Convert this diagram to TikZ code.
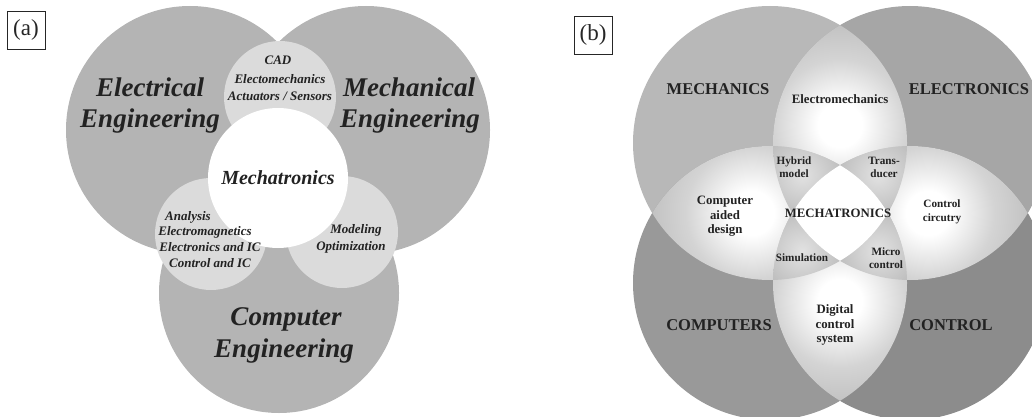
\documentclass[tikz,border=0pt]{standalone}
\usepackage{fontspec}
\setmainfont{Liberation Serif}
% panel (a) palette
\definecolor{bigA}{HTML}{B4B4B4}
\definecolor{smallA}{HTML}{DBDBDB}
\definecolor{ink}{HTML}{222222}
% panel (b) palette
\definecolor{mechB}{HTML}{B8B8B8}
\definecolor{elecB}{HTML}{A6A6A6}
\definecolor{compB}{HTML}{999999}
\definecolor{ctrlB}{HTML}{8C8C8C}
\definecolor{lensmid}{HTML}{D4D4D4}
\definecolor{lensrim}{HTML}{C2C2C2}
\definecolor{triin}{HTML}{E2E2E2}
\definecolor{triout}{HTML}{B4B4B4}
\pgfdeclareradialshading{lensglow}{\pgfpoint{0bp}{0bp}}{color(0bp)=(white); color(5bp)=(white); color(15bp)=(lensmid); color(23bp)=(lensrim); color(50bp)=(lensrim)}
\pgfdeclareradialshading{triglow}{\pgfpoint{0bp}{0bp}}{color(0bp)=(triin); color(25bp)=(triout); color(50bp)=(triout)}
\begin{document}
\begin{tikzpicture}[x=1pt,y=-1pt,
  every node/.style={inner sep=0pt, text=ink},
  bigtxt/.style={anchor=base, font=\fontsize{27}{27}\selectfont\bfseries\itshape},
  midtxt/.style={anchor=base, font=\fontsize{20}{20}\selectfont\bfseries\itshape},
  smalltxt/.style={anchor=base, font=\fontsize{13}{13}\selectfont\bfseries\itshape},
  captxt/.style={anchor=base, font=\fontsize{16.5}{16.5}\selectfont\bfseries},
  lenstxt/.style={anchor=base, font=\fontsize{12.8}{12.8}\selectfont\bfseries},
  tinytxt/.style={anchor=base, font=\fontsize{11.2}{11.2}\selectfont\bfseries},
  tagbox/.style={draw=black!85, line width=0.8pt, minimum width=38pt, minimum height=38pt,
    font=\fontsize{23}{23}\selectfont, text=black!85}]
\useasboundingbox (0,0) rectangle (1032,417);

% ---------------- panel (a) ----------------
\coordinate (EE) at (190,130);
\coordinate (ME) at (366,130);
\coordinate (CE) at (279,293);
\coordinate (CADc) at (280,97);
\coordinate (ANc) at (211,234);
\coordinate (MOc) at (342,232);
\coordinate (MTc) at (278,178);

\fill[bigA] (EE) circle (124pt);
\fill[bigA] (ME) circle (124pt);
\fill[bigA] (CE) circle (120pt);
\fill[smallA] (CADc) circle (56pt);
\fill[smallA] (ANc) circle (56pt);
\fill[smallA] (MOc) circle (56pt);
\fill[white] (MTc) circle (70pt);

\node[bigtxt] (ee1) at (150,97) {Electrical};
\node[bigtxt] (ee2) at (150,128) {Engineering};
\node[bigtxt] (me1) at (409,97) {Mechanical};
\node[bigtxt] (me2) at (410,128) {Engineering};
\node[bigtxt] (ce1) at (286,325) {Computer};
\node[bigtxt] (ce2) at (284,357) {Engineering};
\node[midtxt] (mt) at (278,184) {Mechatronics};

\node[smalltxt] (cad1) at (278,65) {CAD};
\node[smalltxt] (cad2) at (280,84) {Electomechanics};
\node[smalltxt] (cad3) at (280,100) {Actuators / Sensors};

\node[smalltxt] (an1) at (188,220) {Analysis};
\node[smalltxt] (an2) at (205,235) {Electromagnetics};
\node[smalltxt] (an3) at (210,251) {Electronics and IC};
\node[smalltxt] (an4) at (210,267) {Control and IC};

\node[smalltxt] (mo1) at (356,233) {Modeling};
\node[smalltxt] (mo2) at (351,250) {Optimization};

\node[tagbox] (taga) at (26,30) {(a)};

% ---------------- panel (b) ----------------
\coordinate (TL) at (770,143);
\coordinate (TR) at (910,143);
\coordinate (BL) at (770,283);
\coordinate (BR) at (910,283);

\begin{scope}
\clip (516,0) rectangle (1032,417);
\fill[mechB] (TL) circle (137pt);
\fill[elecB] (TR) circle (137pt);
\fill[compB] (BL) circle (137pt);
\fill[ctrlB] (BR) circle (137pt);

% two-circle lenses
\begin{scope}
  \clip (TL) circle (137pt); \clip (TR) circle (137pt);
  \shade[shading=lensglow] (840,125) circle (110pt);
\end{scope}
\begin{scope}
  \clip (TL) circle (137pt); \clip (BL) circle (137pt);
  \shade[shading=lensglow] (752,213) circle (110pt);
\end{scope}
\begin{scope}
  \clip (TR) circle (137pt); \clip (BR) circle (137pt);
  \shade[shading=lensglow] (928,213) circle (110pt);
\end{scope}
\begin{scope}
  \clip (BL) circle (137pt); \clip (BR) circle (137pt);
  \shade[shading=lensglow] (840,301) circle (110pt);
\end{scope}

% three-circle regions
\begin{scope}
  \clip (TL) circle (137pt); \clip (TR) circle (137pt); \clip (BL) circle (137pt);
  \shade[shading=triglow] (802,175) circle (52pt);
\end{scope}
\begin{scope}
  \clip (TL) circle (137pt); \clip (TR) circle (137pt); \clip (BR) circle (137pt);
  \shade[shading=triglow] (878,175) circle (52pt);
\end{scope}
\begin{scope}
  \clip (TL) circle (137pt); \clip (BL) circle (137pt); \clip (BR) circle (137pt);
  \shade[shading=triglow] (802,251) circle (52pt);
\end{scope}
\begin{scope}
  \clip (TR) circle (137pt); \clip (BL) circle (137pt); \clip (BR) circle (137pt);
  \shade[shading=triglow] (878,251) circle (52pt);
\end{scope}

% four-circle core
\begin{scope}
  \clip (TL) circle (137pt); \clip (TR) circle (137pt);
  \clip (BL) circle (137pt);
  \fill[white] (BR) circle (137pt);
\end{scope}
\end{scope}

\node[captxt] (mech) at (718,95) {MECHANICS};
\node[captxt] (elec) at (969,95) {ELECTRONICS};
\node[captxt] (comp) at (719,330) {COMPUTERS};
\node[captxt] (ctrl) at (951,330) {CONTROL};

\node[lenstxt] (em) at (840,104) {Electromechanics};
\node[lenstxt] (cad4) at (725,204) {Computer};
\node[lenstxt] (cad5) at (725,219) {aided};
\node[lenstxt] (cad6) at (725,233) {design};
\node[lenstxt] (mtx) at (838,217) {MECHATRONICS};
\node[tinytxt] (cc1) at (942,207) {Control};
\node[tinytxt] (cc2) at (942,221) {circutry};
\node[lenstxt] (dc1) at (835,313) {Digital};
\node[lenstxt] (dc2) at (835,328) {control};
\node[lenstxt] (dc3) at (835,342) {system};

\node[tinytxt] (hy1) at (794,164) {Hybrid};
\node[tinytxt] (hy2) at (794,177) {model};
\node[tinytxt] (tr1) at (884,164) {Trans-};
\node[tinytxt] (tr2) at (884,177) {ducer};
\node[tinytxt] (sim) at (802,261) {Simulation};
\node[tinytxt] (mc1) at (886,255) {Micro};
\node[tinytxt] (mc2) at (886,268) {control};

\node[tagbox] (tagb) at (593,35) {(b)};
\end{tikzpicture}
\end{document}
